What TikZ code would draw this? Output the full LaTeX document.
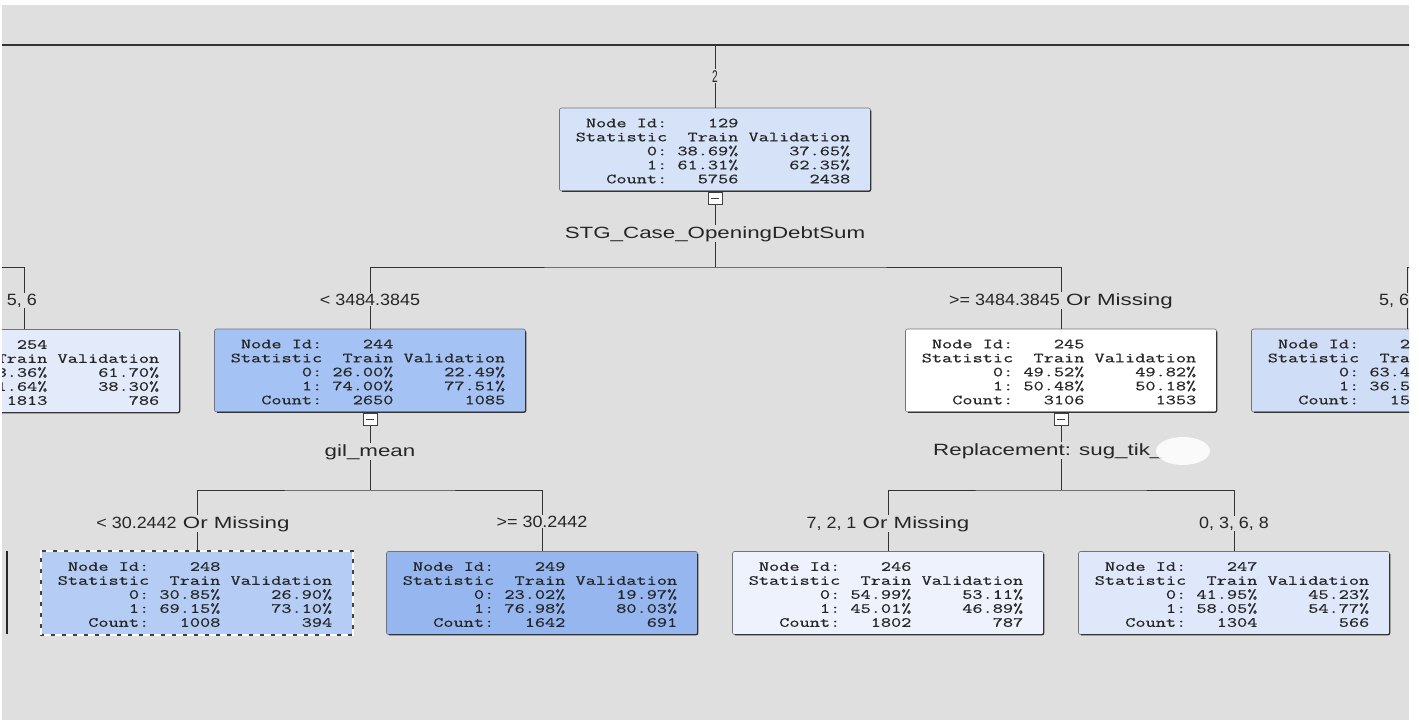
\documentclass[tikz,border=0pt]{standalone}
\usepackage{fontspec}
\setmainfont{Liberation Sans}
\newfontfamily\statfont[FakeStretch=1.41,FakeBold=0.6]{Latin Modern Mono}
\newfontfamily\labfont[FakeStretch=1.37]{Liberation Sans}
\newfontfamily\numfont[FakeStretch=1.1]{Liberation Sans}
\newfontfamily\narrowfont[FakeStretch=0.6]{Liberation Sans}
\definecolor{bgc}{HTML}{DFDFDF}
\definecolor{c129}{HTML}{D6E2F8}
\definecolor{c244}{HTML}{A4C2F4}
\definecolor{c245}{HTML}{FFFFFF}
\definecolor{c248}{HTML}{B5CDF5}
\definecolor{c249}{HTML}{95B6EF}
\definecolor{c246}{HTML}{EEF2FC}
\definecolor{c247}{HTML}{DEE8FA}
\definecolor{c254}{HTML}{E3EBFB}
\definecolor{cR}{HTML}{CFDDF6}
\newcommand{\stattab}[7]{\raisebox{-3pt}[\height][\depth]{\begin{tabular}{@{}r@{\ }r@{\ }r@{}}Node Id:&#1&\\Statistic&Train&Validation\\0:&#2\%&#3\%\\1:&#4\%&#5\%\\Count:&#6&#7\end{tabular}}\hspace*{4pt}}
\newcommand{\boxshade}[1]{\draw[black!80, line width=1.2pt, rounded corners=2pt] ([xshift=3pt]#1.south west) -- (#1.south east) -- ([yshift=-3pt]#1.north east);}
\tikzset{
  statbox/.style={draw=black!55, line width=0.6pt, rounded corners=2pt, minimum width=311pt, minimum height=83pt, inner sep=0pt, text=black!85, font=\statfont\fontsize{14}{14}\selectfont},
  iconbox/.style={draw=black!75, fill=white, line width=0.7pt, minimum width=14pt, minimum height=12pt, inner sep=0pt, anchor=north,
    path picture={\draw[black!75, line width=0.7pt] ([xshift=-4pt]path picture bounding box.center) -- ([xshift=4pt]path picture bounding box.center);}},
  edge/.style={draw=black!80, line width=1pt},
  lab/.style={font=\labfont\fontsize{16.3}{18}\selectfont, fill=bgc, inner sep=1pt, text=black!85, anchor=base},
}
\begin{document}
\begin{tikzpicture}[x=1pt,y=-1pt]
\useasboundingbox (0,0) rectangle (1419,720);
\fill[white] (0,0) rectangle (1419,720);
\fill[bgc] (2,5) rectangle (1409,720);
\begin{scope}
\clip (2,5) rectangle (1409,720);
% boxes
\node[statbox, fill=c129] (n129) at (715,149.5) {\stattab{129}{38.69}{37.65}{61.31}{62.35}{5756}{2438}};
\node[statbox, fill=c254] (n254) at (24,371) {\stattab{254}{38.36}{61.70}{61.64}{38.30}{1813}{786}};
\node[statbox, fill=c244] (n244) at (370,370.5) {\stattab{244}{26.00}{22.49}{74.00}{77.51}{2650}{1085}};
\node[statbox, fill=c245] (n245) at (1061,370.5) {\stattab{245}{49.52}{49.82}{50.48}{50.18}{3106}{1353}};
\node[statbox, fill=cR] (nR) at (1407,370.5) {\stattab{250}{63.40}{63.40}{36.50}{36.60}{1500}{650}};
\node[statbox, fill=c248] (n248) at (197,593) {\stattab{248}{30.85}{26.90}{69.15}{73.10}{1008}{394}};
\node[statbox, fill=c249] (n249) at (542,593) {\stattab{249}{23.02}{19.97}{76.98}{80.03}{1642}{691}};
\node[statbox, fill=c246] (n246) at (888,593) {\stattab{246}{54.99}{53.11}{45.01}{46.89}{1802}{787}};
\node[statbox, fill=c247] (n247) at (1234,593) {\stattab{247}{41.95}{45.23}{58.05}{54.77}{1304}{566}};
\foreach \n in {n129,n254,n244,n245,nR,n249,n246,n247} {\boxshade{\n}}
\draw[black!75, line width=2pt] (n248.south west) rectangle (n248.north east);
\draw[white, line width=2pt, dash pattern=on 7pt off 4pt] (n248.south west) rectangle (n248.north east);
% collapse icons
\node[iconbox] (i129) at ([yshift=-1pt]n129.south) {};
\node[iconbox] (i244) at ([yshift=-1pt]n244.south) {};
\node[iconbox] (i245) at ([yshift=-1pt]n245.south) {};
% junction coordinates
\coordinate (tl) at (0,45);
\coordinate (tr) at (1419,45);
\coordinate (t129) at (715,45);
\coordinate (j129) at (715,267);
\coordinate (j254) at (0,267);
\coordinate (jR) at (1419,267);
\coordinate (j244) at (370,490);
\coordinate (j245) at (1061,490);
\coordinate (le1) at (7,551);
\coordinate (le2) at (7,634);
% connectors
\draw[edge, line width=1.6pt] (tl) -- (tr);
\draw[edge] (t129) -- (n129.north);
\draw[edge] (i129.south) -- (j129);
\draw[edge] (n244.north) |- (j129) -| (n245.north);
\draw[edge] (n254.north) |- (j254);
\draw[edge] (nR.north) |- (jR);
\draw[edge] (i244.south) -- (j244);
\draw[edge] (n248.north) |- (j244) -| (n249.north);
\draw[edge] (i245.south) -- (j245);
\draw[edge] (n246.north) |- (j245) -| (n247.north);
\draw[black!85, line width=2pt] (le1) -- (le2);
% labels
\node[lab] (l129) at (715,82) {\narrowfont\fontsize{17}{18}\selectfont 2};
\node[lab] (s129) at (715,238) {STG\_Case\_OpeningDebtSum};
\node[lab, anchor=base east] (l254) at (38,305) {\numfont 5, 6};
\node[lab] (l244) at (370,305) {\numfont < 3484.3845};
\node[lab] (l245) at (1061,305) {\numfont >= 3484.3845\labfont{} Or Missing};
\node[lab, anchor=base west] (lR) at (1378,305) {\numfont 5, 6};
\node[lab] (s244) at (370,456) {gil\_mean};
\node[lab, anchor=base west] (s245) at (932,455) {Replacement: sug\_tik\_};
\node[lab] (l248) at (193,528) {\numfont < 30.2442\labfont{} Or Missing};
\node[lab] (l249) at (542,527) {\numfont >= 30.2442};
\node[lab] (l246) at (888,528) {\numfont 7, 2, 1\labfont{} Or Missing};
\node[lab] (l247) at (1234,528) {\numfont 0, 3, 6, 8};
\fill[white, opacity=0.85] (1183,451) ellipse [x radius=27pt, y radius=14pt];
\end{scope}
\end{tikzpicture}
\end{document}
